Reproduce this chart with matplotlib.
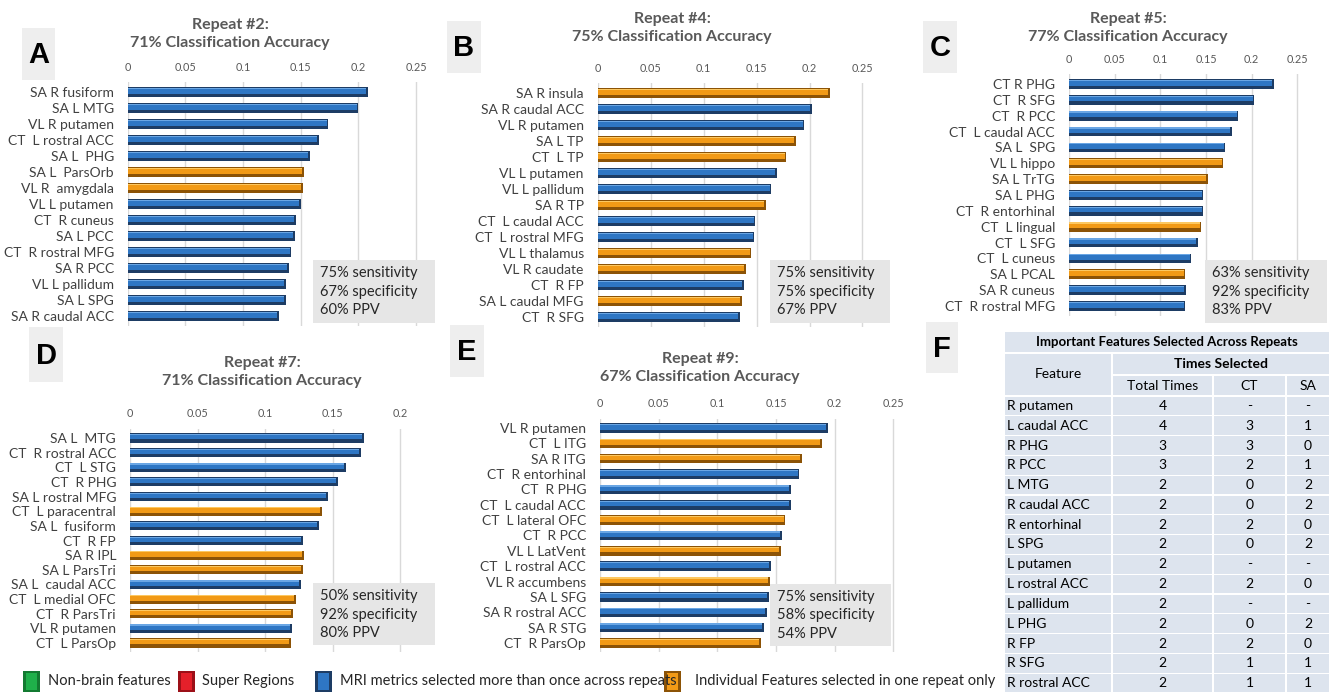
import matplotlib
matplotlib.use("Agg")
import matplotlib.pyplot as plt
from matplotlib.patches import Rectangle

# panel data (feature importance per repeat)
# group: "m" = selected more than once across repeats, "s" = selected in one repeat only
a_labels = ["SA R fusiform", "SA L MTG", "VL R putamen", "CT  L rostral ACC", "SA L  PHG",
            "SA L  ParsOrb", "VL R  amygdala", "VL L putamen", "CT  R cuneus", "SA L PCC",
            "CT  R rostral MFG", "SA R PCC", "VL L pallidum", "SA L SPG", "SA R caudal ACC"]
a_values = [0.208, 0.200, 0.174, 0.166, 0.158, 0.153, 0.152, 0.150, 0.146, 0.145,
            0.142, 0.140, 0.137, 0.137, 0.131]
a_group = ["m", "m", "m", "m", "m", "s", "s", "m", "m", "m", "m", "m", "m", "m", "m"]

b_labels = ["SA R insula", "SA R caudal ACC", "VL R putamen", "SA L TP", "CT  L TP",
            "VL L putamen", "VL L pallidum", "SA R TP", "CT  L caudal ACC", "CT  L rostral MFG",
            "VL L thalamus", "VL R caudate", "CT  R FP", "SA L caudal MFG", "CT  R SFG"]
b_values = [0.219, 0.202, 0.195, 0.187, 0.178, 0.169, 0.164, 0.159, 0.149, 0.148,
            0.145, 0.140, 0.138, 0.136, 0.134]
b_group = ["s", "m", "m", "s", "s", "m", "m", "s", "m", "m", "s", "s", "m", "s", "m"]

c_labels = ["CT R PHG", "CT  R SFG", "CT  R PCC", "CT  L caudal ACC", "SA L  SPG",
            "VL L hippo", "SA L TrTG", "SA L PHG", "CT  R entorhinal", "CT  L lingual",
            "CT  L SFG", "CT  L cuneus", "SA L PCAL", "SA R cuneus", "CT  R rostral MFG"]
c_values = [0.224, 0.203, 0.185, 0.178, 0.171, 0.169, 0.152, 0.147, 0.147, 0.145,
            0.141, 0.134, 0.127, 0.128, 0.127]
c_group = ["m", "m", "m", "m", "m", "s", "s", "m", "m", "s", "m", "m", "s", "m", "m"]

d_labels = ["SA L  MTG", "CT  R rostral ACC", "CT  L STG", "CT  R PHG", "SA L rostral MFG",
            "CT  L paracentral", "SA L  fusiform", "CT  R FP", "SA R IPL", "SA L ParsTri",
            "SA L  caudal ACC", "CT  L medial OFC", "CT  R ParsTri", "VL R putamen", "CT  L ParsOp"]
d_values = [0.173, 0.171, 0.160, 0.154, 0.147, 0.142, 0.140, 0.128, 0.129, 0.128,
            0.127, 0.123, 0.121, 0.120, 0.119]
d_group = ["m", "m", "m", "m", "m", "s", "m", "m", "s", "s", "m", "s", "s", "m", "s"]

e_labels = ["VL R putamen", "CT  L ITG", "SA R ITG", "CT  R entorhinal", "CT  R PHG",
            "CT  L caudal ACC", "CT  L lateral OFC", "CT  R PCC", "VL L LatVent", "CT  L rostral ACC",
            "VL R accumbens", "SA L SFG", "SA R rostral ACC", "SA R STG", "CT  R ParsOp"]
e_values = [0.194, 0.189, 0.172, 0.170, 0.163, 0.163, 0.158, 0.155, 0.154, 0.146,
            0.145, 0.144, 0.142, 0.140, 0.137]
e_group = ["m", "s", "s", "m", "m", "m", "s", "m", "s", "m", "s", "m", "m", "m", "s"]

titles = ["Repeat #2:\n71% Classification Accuracy", "Repeat #4:\n75% Classification Accuracy",
          "Repeat #5:\n77% Classification Accuracy", "Repeat #7:\n71% Classification Accuracy",
          "Repeat #9:\n67% Classification Accuracy"]
stats = [["75% sensitivity", "67% specificity", "60% PPV"],
         ["75% sensitivity", "75% specificity", "67% PPV"],
         ["63% sensitivity", "92% specificity", "83% PPV"],
         ["50% sensitivity", "92% specificity", "80% PPV"],
         ["75% sensitivity", "58% specificity", "54% PPV"]]

# table F
tab_feature = ["R putamen", "L caudal ACC", "R PHG", "R PCC", "L MTG", "R caudal ACC",
               "R entorhinal", "L SPG", "L putamen", "L rostral ACC", "L pallidum",
               "L PHG", "R FP", "R SFG", "R rostral ACC"]
tab_total = ["4", "4", "3", "3", "2", "2", "2", "2", "2", "2", "2", "2", "2", "2", "2"]
tab_ct = ["-", "3", "3", "2", "0", "0", "2", "0", "-", "2", "-", "0", "2", "1", "1"]
tab_sa = ["-", "1", "0", "1", "2", "2", "0", "2", "-", "0", "-", "2", "0", "1", "1"]

legend_items = ["Non-brain features", "Super Regions",
                "MRI metrics selected more than once across repeats",
                "Individual Features selected in one repeat only"]

plt.rcParams['font.family'] = ['Lato', 'DejaVu Sans']

W, H = 1335, 694
fig = plt.figure(figsize=(W / 100, H / 100), dpi=100)
fig.patch.set_facecolor("white")

shades = {"m": ("#1d3c64", "#2e76c4", "#6aa6e4"),
          "s": ("#8c5306", "#f29a16", "#fcc862")}
gray_txt = "#595959"


def ax_px(x0, y0, x1, y1, **kw):
    return fig.add_axes([x0 / W, 1 - y1 / H, (x1 - x0) / W, (y1 - y0) / H], **kw)


def bar_panel(labels, values, group, x0, scale, xmax, c0, c1, ticks):
    s = (c1 - c0) / (len(labels) - 1)
    ax = ax_px(x0, c0 - 0.6 * s, x0 + xmax * scale, c1 + 0.6 * s)
    ax.patch.set_alpha(0)
    y = list(range(len(labels)))
    for yi, v, g in zip(y, values, group):
        dark, mid, light = shades[g]
        ax.barh(yi, v, height=0.62, color=dark, zorder=3)
        ax.barh(yi - 0.08, v - 0.0015, height=0.36, color=mid, zorder=4)
        ax.barh(yi - 0.23, v - 0.0015, height=0.08, color=light, zorder=5)
    ax.set_xlim(0, xmax)
    ax.set_ylim(len(labels) - 0.4, -0.6)
    ax.set_xticks(ticks, [("%g" % t) for t in ticks])
    ax.xaxis.tick_top()
    ax.set_yticks(y, labels)
    ax.tick_params(axis="x", length=0, pad=7, labelsize=7.8, labelcolor=gray_txt)
    ax.tick_params(axis="y", length=0, pad=10, labelsize=10, labelcolor="#404040")
    ax.grid(axis="x", color="#d9d9d9", lw=1, zorder=0)
    for sp in ax.spines.values():
        sp.set_visible(False)
    return ax


t5 = [0, 0.05, 0.1, 0.15, 0.2, 0.25]
bar_panel(a_labels, a_values, a_group, 127.7, 1153, 0.27, 92, 316, t5)
bar_panel(b_labels, b_values, b_group, 597.7, 1059, 0.27, 93, 317, t5)
bar_panel(c_labels, c_values, c_group, 1069, 913, 0.27, 84, 306, t5)
bar_panel(d_labels, d_values, d_group, 130, 1350, 0.22, 438, 643, t5[:5])
bar_panel(e_labels, e_values, e_group, 600, 1173, 0.27, 428, 643, t5)

# overlay for titles, letters, stat boxes, legend, table
ov = ax_px(0, 0, W, H, zorder=10)
ov.set_xlim(0, W)
ov.set_ylim(H, 0)
ov.axis("off")
ov.patch.set_alpha(0)

title_pos = [(230, 34), (672, 28), (1128, 28), (262, 372), (700, 368)]
for (tx, ty), t in zip(title_pos, titles):
    ov.text(tx, ty, t, ha="center", va="center", fontsize=11.5, fontweight="bold",
            color=gray_txt, linespacing=1.4)

letter_boxes = [("A", 22, 28, 55, 80), ("B", 447, 21, 481, 73), ("C", 923, 21, 957, 73),
                ("D", 29, 327, 63, 382), ("E", 450, 325, 484, 377), ("F", 926, 322, 958, 373)]
for ch, x0, y0, x1, y1 in letter_boxes:
    ov.add_patch(Rectangle((x0, y0), x1 - x0, y1 - y0, color="#eeeeee", lw=0))
    ov.text((x0 + x1) / 2, (y0 + y1) / 2 + 1, ch, ha="center", va="center", fontsize=21,
            fontweight="bold", family="Liberation Sans", color="black")

stat_boxes = [(313, 260, 435, 323), (770, 260, 890, 323), (1205, 260, 1327, 323),
              (313, 583, 435, 645), (770, 584, 891, 646)]
for (x0, y0, x1, y1), lines in zip(stat_boxes, stats):
    ov.add_patch(Rectangle((x0, y0), x1 - x0, y1 - y0, color="#e6e6e6", lw=0))
    for k, line in enumerate(lines):
        ov.text(x0 + 7, y0 + 13 + k * 18.5, line, ha="left", va="center", fontsize=10.5,
                color="#262626")

# legend
leg_cols = [("#1fb04a", "#137a31"), ("#e4202a", "#9c1018"),
            ("#2e76c4", "#1d3c64"), ("#f29a16", "#8c5306")]
leg_x = [(23, 48), (178, 202), (315, 340), (664, 695)]
for (c, cd), (sx, tx), lab in zip(leg_cols, leg_x, legend_items):
    ov.add_patch(Rectangle((sx, 671), 17, 21, color=cd, lw=0))
    ov.add_patch(Rectangle((sx + 3, 673), 11, 17, color=c, lw=0))
    ov.text(tx, 681, lab, ha="left", va="center", fontsize=10.5, color="#262626")

# table F
tx0, tx1 = 1004, 1330
cols = [1004, 1112, 1213, 1286, 1330]
cell_bg = "#dde4ee"
sep = 1.2


def cell(x0, y0, x1, y1):
    ov.add_patch(Rectangle((x0 + sep / 2, y0 + sep / 2), x1 - x0 - sep, y1 - y0 - sep,
                           color=cell_bg, lw=0))


cell(tx0, 331, tx1, 353)
ov.text((tx0 + tx1) / 2, 342, "Important Features Selected Across Repeats", ha="center",
        va="center", fontsize=9.5, fontweight="bold", color="black")
cell(cols[0], 353, cols[1], 396)
ov.text((cols[0] + cols[1]) / 2, 374, "Feature", ha="center", va="center", fontsize=10,
        color="black")
cell(cols[1], 353, cols[4], 375)
ov.text((cols[1] + cols[4]) / 2, 364, "Times Selected", ha="center", va="center",
        fontsize=10, fontweight="bold", color="black")
for j, hdr in enumerate(["Total Times", "CT", "SA"]):
    cell(cols[j + 1], 375, cols[j + 2], 396)
    ov.text((cols[j + 1] + cols[j + 2]) / 2, 386, hdr, ha="center", va="center",
            fontsize=10, color="black")

rh = (693 - 396) / len(tab_feature)
for i, (f, t, c, s) in enumerate(zip(tab_feature, tab_total, tab_ct, tab_sa)):
    y0 = 396 + i * rh
    yc = y0 + rh / 2
    for j in range(4):
        cell(cols[j], y0, cols[j + 1], y0 + rh)
    ov.text(cols[0] + 3, yc, f, ha="left", va="center", fontsize=10, color="black")
    for j, v in enumerate([t, c, s]):
        ov.text((cols[j + 1] + cols[j + 2]) / 2, yc, v, ha="center", va="center",
                fontsize=10, color="black")

fig.savefig("out.png", dpi=100)
